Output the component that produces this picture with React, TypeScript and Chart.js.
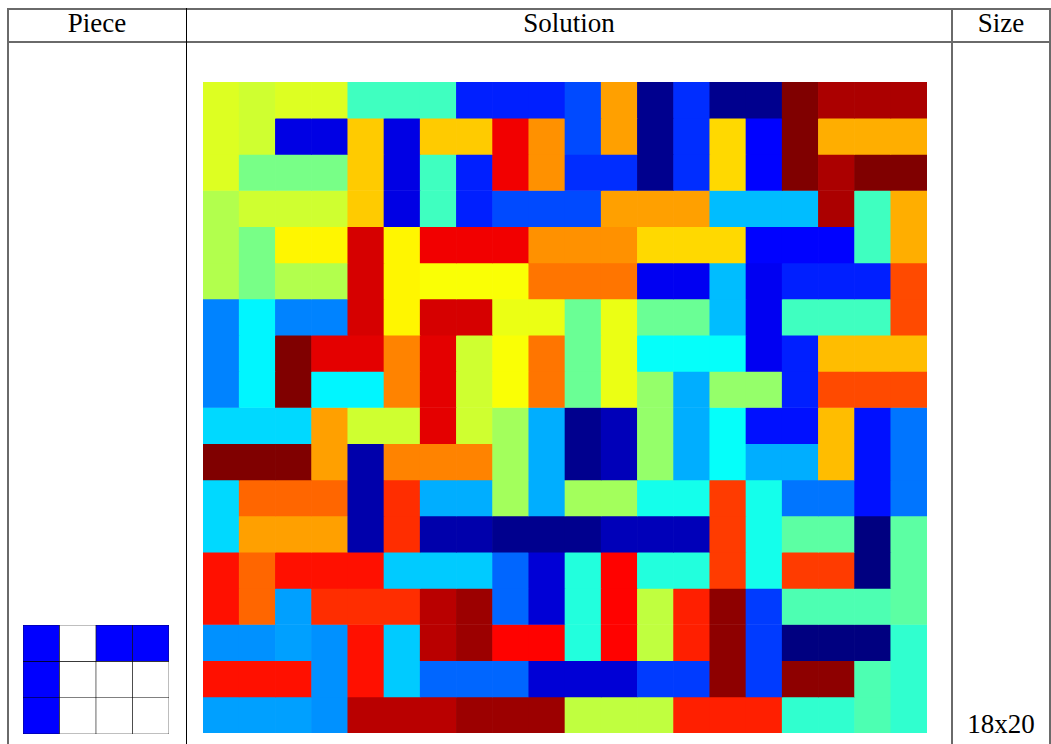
import React, { useEffect, useRef } from 'react';
import { Chart, registerables } from 'chart.js';

Chart.register(...registerables);

// ---- data ----
const headers = ['Piece', 'Solution', 'Size'];
const sizeLabel = '18x20';
const columnLabels = ['1', '2', '3', '4', '5', '6', '7', '8', '9', '10', '11', '12', '13', '14', '15', '16', '17', '18', '19', '20'];
const pieceColumnLabels = ['1', '2', '3', '4'];
const levelCount = 72;

// piece colour level (0..71, jet colormap) of each solution cell, row by row from the top
const pieceLevels: number[][] = [
  [42, 41, 42, 42, 31, 31, 31, 11, 11, 11, 14, 51, 1, 12, 1, 1, 71, 68, 68, 68],
  [42, 41, 7, 7, 48, 7, 48, 48, 63, 52, 14, 51, 1, 12, 47, 9, 71, 50, 50, 50],
  [42, 35, 35, 35, 48, 7, 31, 11, 63, 52, 12, 12, 1, 12, 47, 9, 71, 68, 71, 71],
  [39, 41, 41, 41, 48, 7, 31, 11, 14, 14, 14, 51, 51, 51, 22, 22, 22, 68, 31, 50],
  [39, 35, 45, 45, 65, 45, 63, 63, 63, 52, 52, 52, 47, 47, 47, 9, 9, 9, 31, 50],
  [39, 35, 39, 39, 65, 45, 44, 44, 44, 54, 54, 54, 8, 8, 22, 8, 11, 11, 11, 57],
  [18, 26, 18, 18, 65, 45, 65, 65, 43, 43, 34, 43, 34, 34, 22, 8, 31, 31, 31, 57],
  [18, 26, 71, 64, 64, 53, 64, 41, 44, 54, 34, 43, 27, 27, 27, 8, 11, 49, 49, 49],
  [18, 26, 71, 26, 26, 53, 64, 41, 44, 54, 34, 43, 37, 21, 37, 37, 11, 57, 57, 57],
  [24, 24, 24, 51, 41, 41, 64, 41, 38, 21, 1, 4, 37, 21, 27, 10, 10, 49, 10, 17],
  [71, 71, 71, 51, 3, 53, 53, 53, 38, 21, 1, 4, 37, 21, 27, 21, 21, 49, 10, 17],
  [24, 55, 55, 55, 3, 59, 21, 21, 38, 21, 38, 38, 28, 28, 58, 28, 17, 17, 10, 17],
  [24, 51, 51, 51, 3, 59, 3, 3, 1, 1, 1, 4, 4, 4, 58, 28, 33, 33, 0, 33],
  [61, 55, 61, 61, 61, 23, 23, 23, 16, 6, 29, 62, 29, 29, 58, 28, 58, 58, 0, 33],
  [61, 55, 20, 59, 59, 59, 67, 69, 16, 6, 29, 62, 40, 60, 70, 13, 32, 32, 32, 33],
  [19, 19, 20, 19, 61, 23, 67, 69, 62, 62, 29, 62, 40, 60, 70, 13, 0, 0, 0, 30],
  [61, 61, 61, 19, 61, 23, 16, 16, 16, 6, 6, 6, 13, 13, 70, 13, 70, 70, 32, 30],
  [20, 20, 20, 19, 67, 67, 67, 69, 69, 69, 40, 40, 40, 60, 60, 60, 30, 30, 32, 30],
];

// the piece: 1 = filled cell
const pieceShape: number[][] = [
  [1, 0, 1, 1],
  [1, 0, 0, 0],
  [1, 0, 0, 0],
];

// ---- colours ----
function clamp01(x: number) {
  return Math.max(0, Math.min(1, x));
}
function jet(v: number) {
  const r = clamp01(1.5 - Math.abs(4 * v - 3));
  const g = clamp01(1.5 - Math.abs(4 * v - 2));
  const b = clamp01(1.5 - Math.abs(4 * v - 1));
  return `rgb(${Math.round(r * 255)},${Math.round(g * 255)},${Math.round(b * 255)})`;
}

type GridProps = {
  rows: number[][];
  labels: string[];
  colorOf: (v: number) => string;
  borderColor?: string;
  borderWidth?: number;
  left: number;
  top: number;
  width: number;
  height: number;
};

function GridChart({ rows, labels, colorOf, borderColor, borderWidth, left, top, width, height }: GridProps) {
  const ref = useRef<HTMLCanvasElement | null>(null);
  useEffect(() => {
    if (!ref.current) return;
    const chart = new Chart(ref.current, {
      type: 'bar',
      data: {
        labels,
        datasets: rows.map((row, r) => ({
          data: row.map(() => [r, r + 1]),
          backgroundColor: row.map((v) => colorOf(v)),
          borderColor: borderColor || 'rgba(0,0,0,0)',
          borderWidth: borderWidth || 0,
          borderSkipped: false,
          grouped: false,
          barPercentage: 1,
          categoryPercentage: 1,
        })) as any,
      },
      options: {
        animation: false,
        responsive: false,
        maintainAspectRatio: false,
        events: [],
        layout: { padding: 0 },
        plugins: { legend: { display: false }, tooltip: { enabled: false } },
        scales: {
          x: { display: false },
          y: { display: false, min: 0, max: rows.length, reverse: true },
        },
      },
    });
    return () => chart.destroy();
  }, []);
  return (
    <canvas
      ref={ref}
      width={width}
      height={height}
      style={{ position: 'absolute', left, top, width, height }}
    />
  );
}

const lineGray = '#6a6a6a';
const textStyle: React.CSSProperties = {
  position: 'absolute',
  fontFamily: '"Liberation Serif", serif',
  fontSize: 27,
  lineHeight: '27px',
  color: '#000',
  textAlign: 'center',
  whiteSpace: 'nowrap',
};

export default function App() {
  return (
    <div style={{ position: 'fixed', left: 0, top: 0, width: 1051, height: 744, background: '#fff', overflow: 'hidden' }}>
      {/* table rules */}
      <div style={{ position: 'absolute', left: 8, top: 8, width: 1043, height: 2, background: lineGray }} />
      <div style={{ position: 'absolute', left: 8, top: 41, width: 1043, height: 2, background: lineGray }} />
      <div style={{ position: 'absolute', left: 7, top: 8, width: 2, height: 736, background: lineGray }} />
      <div style={{ position: 'absolute', left: 186, top: 8, width: 1, height: 736, background: '#000' }} />
      <div style={{ position: 'absolute', left: 951, top: 8, width: 2, height: 736, background: lineGray }} />
      <div style={{ position: 'absolute', left: 1049, top: 8, width: 2, height: 736, background: lineGray }} />

      {/* headers */}
      <div style={{ ...textStyle, left: 8, width: 178, top: 10 }}>{headers[0]}</div>
      <div style={{ ...textStyle, left: 187, width: 764, top: 10 }}>{headers[1]}</div>
      <div style={{ ...textStyle, left: 953, width: 96, top: 10 }}>{headers[2]}</div>

      <GridChart
        rows={pieceShape}
        labels={pieceColumnLabels}
        colorOf={(v) => (v ? '#0000ff' : '#ffffff')}
        borderColor="#000"
        borderWidth={0.6}
        left={23}
        top={625}
        width={146}
        height={109}
      />
      <GridChart
        rows={pieceLevels}
        labels={columnLabels}
        colorOf={(v) => jet(v / (levelCount - 1))}
        left={203}
        top={82}
        width={724}
        height={651}
      />

      <div style={{ ...textStyle, left: 953, width: 96, top: 711 }}>{sizeLabel}</div>
    </div>
  );
}
